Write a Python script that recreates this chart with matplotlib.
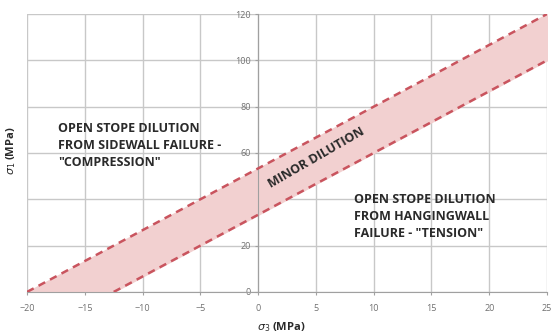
import numpy as np
import matplotlib.pyplot as plt

plt.rcParams['font.family'] = ['Open Sans', 'DejaVu Sans']

# limites de la zona de dilucion menor (sigma3, sigma1)
sigma3_sup = [-20, 25]
sigma1_sup = [0, 120]
sigma3_inf = [-12.5, 25]
sigma1_inf = [0, 100]

xticks = [-20, -15, -10, -5, 0, 5, 10, 15, 20, 25]
yticks = [0, 20, 40, 60, 80, 100, 120]

fig = plt.figure(figsize=(5.52, 3.34), dpi=100)
ax = fig.add_axes([0.049, 0.126, 0.942, 0.832])

ax.set_xlim(-20, 25)
ax.set_ylim(0, 120)
ax.set_xticks(xticks)
ax.set_yticks(yticks)
ax.grid(True, color='#c8c8c8', linewidth=1.0)
ax.set_axisbelow(True)

# banda sombreada entre ambas rectas
xs = np.array([-20, -12.5, 25])
top = np.interp(xs, sigma3_sup, sigma1_sup)
bot = np.interp(xs, sigma3_inf, sigma1_inf, left=0)
ax.fill_between(xs, bot, top, color='#f2d0d0', zorder=1)

color_linea = '#c9545e'
ax.plot(sigma3_sup, sigma1_sup, '--', color=color_linea, lw=1.8, dashes=(3, 2.2), zorder=3)
ax.plot(sigma3_inf, sigma1_inf, '--', color=color_linea, lw=1.8, dashes=(3, 2.2), zorder=3)

for s in ['top', 'right']:
    ax.spines[s].set_visible(False)
ax.spines['left'].set_position(('data', 0))
ax.spines['left'].set_color('#a0a0a0')
ax.spines['bottom'].set_color('#a0a0a0')
ax.tick_params(colors='#a0a0a0', labelcolor='#707070', labelsize=6.5, length=2)
ax.tick_params(axis='x', pad=7)

txt = dict(fontsize=9, fontweight='bold', color='#2a2a2a')
ax.text(-17.3, 73.5, 'OPEN STOPE DILUTION\nFROM SIDEWALL FAILURE -\n"COMPRESSION"',
        va='top', ha='left', linespacing=1.4, **txt)
ax.text(8.3, 42.5, 'OPEN STOPE DILUTION\nFROM HANGINGWALL\nFAILURE - "TENSION"',
        va='top', ha='left', linespacing=1.4, **txt)
ax.text(5.0, 58, 'MINOR DILUTION', rotation=30, ha='center', va='center',
        rotation_mode='anchor', **txt)

fig.text(0.02, 0.55, r'$\sigma_1$ (MPa)', rotation=90, fontsize=8, fontweight='bold',
         color='#2a2a2a', ha='center', va='center')
fig.text(0.51, 0.022, r'$\sigma_3$ (MPa)', fontsize=8, fontweight='bold',
         color='#2a2a2a', ha='center', va='center')

fig.savefig('out.png', dpi=100)
